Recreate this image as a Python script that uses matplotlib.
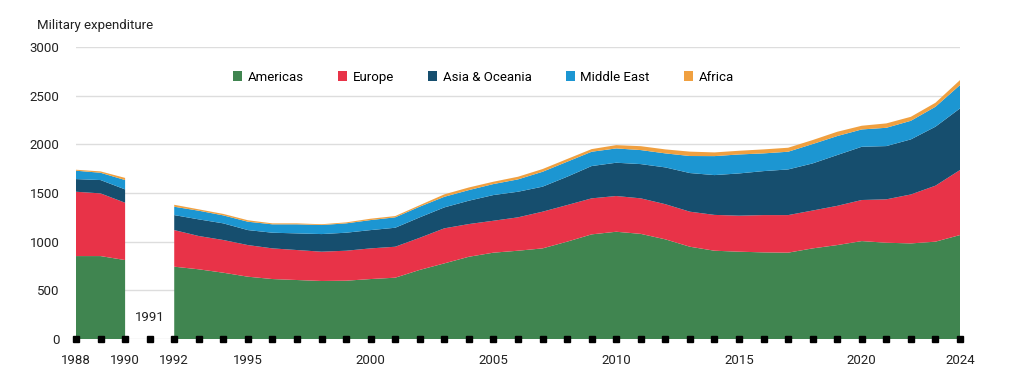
import numpy as np
import matplotlib
matplotlib.use("Agg")
import matplotlib.pyplot as plt
from matplotlib.patches import Patch

plt.rcParams['font.family'] = ['Roboto', 'DejaVu Sans']

years = list(range(1988, 2025))
nan = np.nan

# regional military expenditure, 1991 missing (gap)
americas = [852, 852, 811, nan, 743, 716, 681, 640, 616, 606, 596, 599, 616, 630, 710,
            777, 845, 887, 907, 931, 1000, 1075, 1102, 1080, 1024, 948, 907, 897, 890,
            887, 931, 965, 1006, 989, 982, 1000, 1068]
europe = [661, 644, 589, nan, 376, 342, 336, 325, 315, 308, 301, 308, 315, 318, 330,
          360, 336, 328, 343, 377, 376, 370, 367, 365, 361, 360, 368, 370, 383,
          386, 389, 403, 422, 446, 503, 575, 668]
asia = [130, 137, 137, nan, 154, 171, 171, 154, 161, 171, 181, 185, 188, 195, 210,
        215, 240, 264, 263, 257, 291, 332, 342, 352, 378, 397, 409, 434, 452,
        469, 484, 522, 547, 547, 566, 606, 633]
middle_east = [86, 75, 96, nan, 86, 89, 82, 86, 86, 93, 93, 96, 103, 107, 110,
               109, 109, 113, 127, 153, 154, 147, 147, 144, 144, 175, 195, 195, 182,
               182, 199, 195, 178, 188, 191, 205, 240]
africa = [10, 14, 22, nan, 20, 14, 15, 15, 10, 10, 8, 10, 14, 13, 15,
          25, 27, 24, 27, 28, 28, 27, 34, 40, 41, 45, 38, 38, 41,
          41, 41, 44, 38, 45, 41, 41, 51]

labels = ["Americas", "Europe", "Asia & Oceania", "Middle East", "Africa"]
colors = ["#408550", "#e83348", "#164e6e", "#1c96d2", "#f0a040"]

tick_years = [1988, 1990, 1992, 1995, 2000, 2005, 2010, 2015, 2020, 2024]

fig = plt.figure(figsize=(10.24, 3.84), dpi=100)
ax = fig.add_axes([76 / 1024, 1 - 339 / 384, 884 / 1024, 292 / 384])

ax.stackplot(years, americas, europe, asia, middle_east, africa,
             colors=colors, zorder=2, linewidth=0)

ax.set_xlim(1988, 2024)
ax.set_ylim(0, 3000)
ax.set_yticks(range(0, 3001, 500))
ax.yaxis.grid(True, color="#dddddd", linewidth=1, zorder=0)
ax.set_axisbelow(True)
for s in ax.spines.values():
    s.set_visible(False)

ax.set_xticks(tick_years)
ax.tick_params(axis="x", length=0, pad=11, labelsize=9.5, colors="#222222")
ax.tick_params(axis="y", length=0, pad=12, labelsize=9.5, colors="#222222")

# year markers along the baseline
ax.plot(years, [0] * len(years), "s", color="black", ms=4.5, clip_on=False, zorder=5)
ax.text(1991, 216, "1991", ha="center", va="center", fontsize=9.5, color="#222222")

fig.text(37 / 1024, 1 - 25 / 384, "Military expenditure", fontsize=9.5,
         ha="left", va="center", color="#222222")

handles = [Patch(facecolor=c, edgecolor="none") for c in colors]
ax.legend(handles, labels, ncol=5, frameon=False, loc="center",
          bbox_to_anchor=(0.461, 0.897), fontsize=9.5, handlelength=0.7,
          handleheight=0.7, handletextpad=0.4, columnspacing=2.6)

fig.savefig("out.png", dpi=100)
